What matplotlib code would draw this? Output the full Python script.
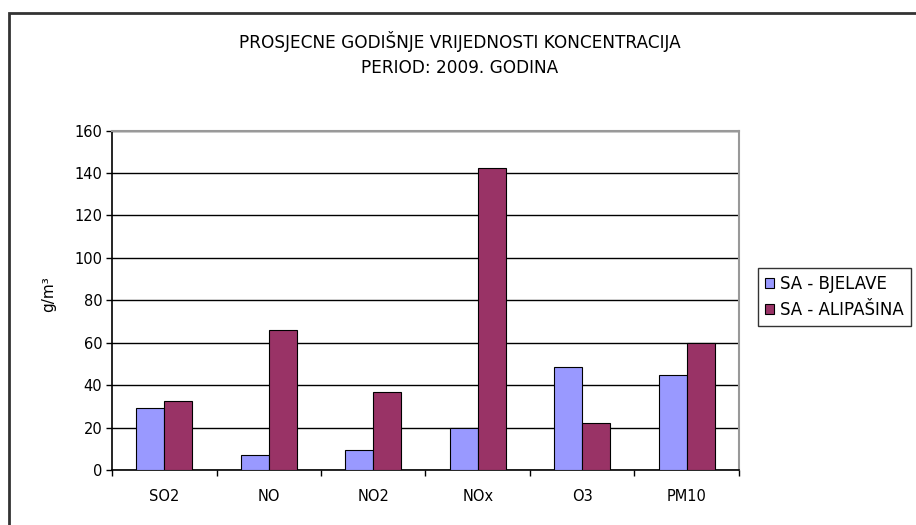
import matplotlib
matplotlib.use("Agg")
import matplotlib.pyplot as plt
import numpy as np
from matplotlib.patches import Rectangle

plt.rcParams['font.family'] = ['DejaVu Sans']

categories = ["SO2", "NO", "NO2", "NOx", "O3", "PM10"]
bjelave = [29.0, 7.1, 9.4, 19.6, 48.4, 44.6]
alipasina = [32.7, 65.9, 36.9, 142.5, 22.0, 59.7]
series_names = ["SA - BJELAVE", "SA - ALIPAŠINA"]
yticks = [0, 20, 40, 60, 80, 100, 120, 140, 160]

fig = plt.figure(figsize=(9.16, 5.25), dpi=100)
fig.patch.set_facecolor("white")

# outer chart border
fig.patches.append(Rectangle((8.5/916, -0.05), 1.2, 1 - 12.5/525 + 0.05,
                             transform=fig.transFigure, fill=False,
                             edgecolor="#333333", linewidth=2.0))

ax = fig.add_axes([112/916, 1 - 470/525, (739 - 112)/916, (470 - 130.5)/525])
x = np.arange(len(categories))
w = 0.27
ax.bar(x - w/2, bjelave, w, color="#9999FF", edgecolor="black", linewidth=0.8,
       label=series_names[0], zorder=3)
ax.bar(x + w/2, alipasina, w, color="#993366", edgecolor="black", linewidth=0.8,
       label=series_names[1], zorder=3)

ax.set_xlim(-0.5, len(categories) - 0.5)
ax.set_ylim(0, 160)
ax.set_yticks(yticks)
ax.set_yticklabels([str(v) for v in yticks], fontsize=10.5)
ax.yaxis.grid(True, color="black", linewidth=1.0, zorder=0)
ax.set_axisbelow(True)

ax.set_xticks(x)
ax.set_xticklabels(categories, fontsize=10.5)
ax.tick_params(axis="x", which="major", length=0, pad=14)
ax.set_xticks(np.arange(-0.5, len(categories), 1.0), minor=True)
ax.tick_params(axis="x", which="minor", length=4, width=1, color="black", direction="out")
ax.tick_params(axis="y", length=4, width=1, color="black", pad=3)

for side in ["top", "right"]:
    ax.spines[side].set_color("#999999")
    ax.spines[side].set_linewidth(1.5)
ax.spines["left"].set_color("black")
ax.spines["bottom"].set_color("black")
ax.spines["left"].set_linewidth(1.2)
ax.spines["bottom"].set_linewidth(1.2)

fig.text(49/916, 1 - 294/525, "g/m³", rotation=90, ha="center", va="center", fontsize=11)

fig.text(460/916, 1 - 41/525, "PROSJECNE GODIŠNJE VRIJEDNOSTI KONCENTRACIJA",
         ha="center", va="center", fontsize=12.2)
fig.text(460/916, 1 - 68/525, "PERIOD: 2009. GODINA", ha="center", va="center", fontsize=12.2)

leg = fig.legend(loc="upper left", bbox_to_anchor=(758/916, 1 - 268/525),
                 fontsize=12, frameon=True, fancybox=False, edgecolor="black",
                 handlelength=0.55, handleheight=0.55, handletextpad=0.4,
                 borderpad=0.4, labelspacing=0.5, borderaxespad=0)
leg.get_frame().set_linewidth(1.0)

fig.savefig("out.png", dpi=100)
